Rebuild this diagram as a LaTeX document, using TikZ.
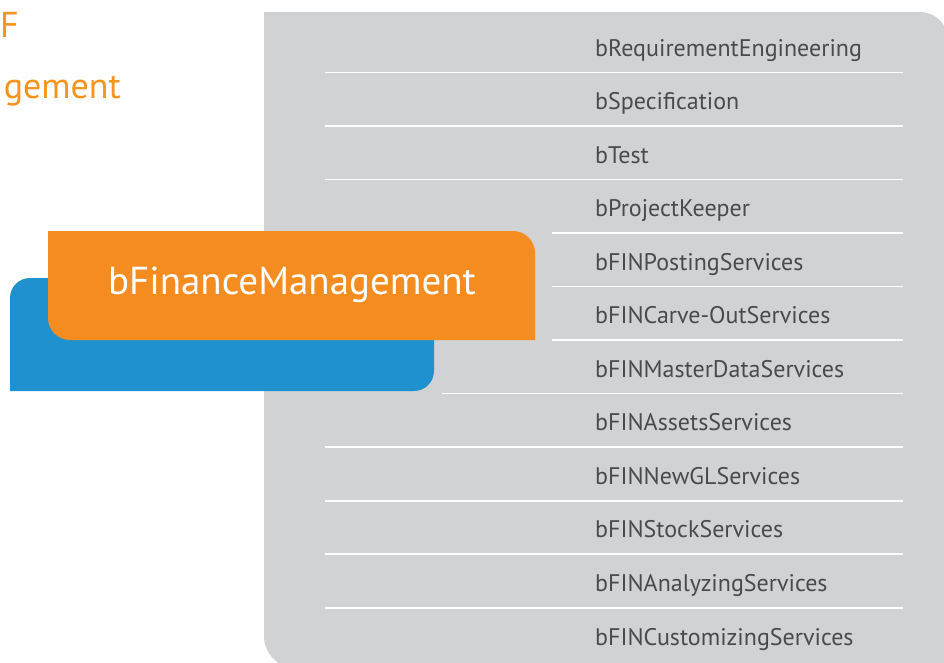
\documentclass[tikz,border=0pt]{standalone}
\usepackage{fontspec}
\setmainfont{PT Sans}
\usetikzlibrary{positioning}
\definecolor{boxorange}{HTML}{F58C20}
\definecolor{titleorange}{HTML}{F7941D}
\definecolor{boxblue}{HTML}{1F91CF}
\definecolor{panelgray}{HTML}{D1D2D4}
\definecolor{itemgray}{HTML}{4A4A4C}
\tikzset{
  item/.style={anchor=base west, text=itemgray, inner sep=0pt, font=\fontsize{24}{24}\selectfont},
  sepline/.style={draw=white, line width=1.6pt},
  title/.style={text=titleorange, inner sep=0pt, font=\fontsize{36}{36}\selectfont}
}
\begin{document}
\begin{tikzpicture}[x=1pt,y=1pt]
\useasboundingbox (0,0) rectangle (944,-662);
\clip (0,0) rectangle (944,-662);
% grey panel
\fill[panelgray] (264,-12) -- (920,-12) arc[start angle=90, end angle=0, radius=28] -- (948,-668) -- (296,-668) arc[start angle=270, end angle=180, radius=32] -- cycle;
% separators
\foreach \k/\s in {1/325,2/325,3/325,4/552,5/552,6/552,7/442,8/325,9/325,10/325,11/325}{ \draw[sepline] (\s,{-72.3-53.55*(\k-1)}) -- (903,{-72.3-53.55*(\k-1)});}
% list of modules
\foreach \k/\name in {1/bRequirementEngineering, 2/bSpecification, 3/bTest, 4/bProjectKeeper, 5/bFINPostingServices, 6/bFINCarve-OutServices, 7/bFINMasterDataServices, 8/bFINAssetsServices, 9/bFINNewGLServices, 10/bFINStockServices, 11/bFINAnalyzingServices, 12/bFINCustomizingServices}{ \node[item] (m\k) at (595,{-56-53.55*(\k-1)}) {\name};}
% blue and orange boxes
\fill[boxblue] (10,-391) -- (10,-298) arc[start angle=180, end angle=90, radius=20] -- (434,-278) -- (434,-371) arc[start angle=0, end angle=-90, radius=20] -- cycle;
\fill[boxorange] (48,-231) -- (513,-231) arc[start angle=90, end angle=0, radius=22] -- (535,-340) -- (70,-340) arc[start angle=270, end angle=180, radius=22] -- cycle;
\node[text=white, inner sep=0pt, font=\fontsize{39}{39}\selectfont] (fm) at (292,-285) {bFinanceManagement};
% cut title
\node[title, anchor=base west] (t1) at (0,-37) {F};
\node[title, anchor=base east] (t2) at (121,-98) {gement};
\end{tikzpicture}
\end{document}
